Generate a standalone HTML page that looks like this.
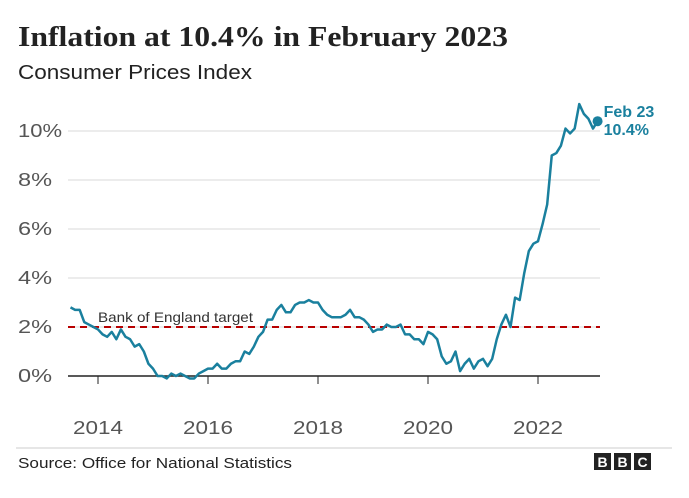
<!DOCTYPE html>
<html><head><meta charset="utf-8"><style>
body{margin:0;background:#fff;width:689px;height:493px;overflow:hidden;font-family:"Liberation Sans",sans-serif}
</style></head><body>
<svg id="chart" width="689" height="493">
<text x="18" y="46" font-family="Liberation Serif,serif" font-weight="bold" font-size="28" textLength="490" lengthAdjust="spacingAndGlyphs" fill="#222">Inflation at 10.4% in February 2023</text>
<text x="18" y="79" font-size="20" textLength="234" lengthAdjust="spacingAndGlyphs" fill="#222">Consumer Prices Index</text>
<g id="grid"></g><g id="marks"></g>
<line x1="16" y1="448" x2="672" y2="448" stroke="#ccc"/>
<text x="18" y="468" font-size="15" textLength="274" lengthAdjust="spacingAndGlyphs" fill="#222">Source: Office for National Statistics</text>
<g>
<rect x="594" y="453" width="17" height="17" fill="#222"/><text x="602.5" y="467" text-anchor="middle" fill="#fff" font-weight="bold" font-size="14">B</text>
<rect x="614" y="453" width="17" height="17" fill="#222"/><text x="622.5" y="467" text-anchor="middle" fill="#fff" font-weight="bold" font-size="14">B</text>
<rect x="634" y="453" width="17" height="17" fill="#222"/><text x="642.5" y="467" text-anchor="middle" fill="#fff" font-weight="bold" font-size="14">C</text>
</g>
</svg>
<script>
const startYear = 2013, startMonth = 6; // July 2013 (0-based month)
const cpiValues = [2.8,2.7,2.7,2.2,2.1,2.0,
1.9,1.7,1.6,1.8,1.5,1.9,1.6,1.5,1.2,1.3,1.0,0.5,
0.3,0.0,0.0,-0.1,0.1,0.0,0.1,0.0,-0.1,-0.1,0.1,0.2,
0.3,0.3,0.5,0.3,0.3,0.5,0.6,0.6,1.0,0.9,1.2,1.6,
1.8,2.3,2.3,2.7,2.9,2.6,2.6,2.9,3.0,3.0,3.1,3.0,
3.0,2.7,2.5,2.4,2.4,2.4,2.5,2.7,2.4,2.4,2.3,2.1,
1.8,1.9,1.9,2.1,2.0,2.0,2.1,1.7,1.7,1.5,1.5,1.3,
1.8,1.7,1.5,0.8,0.5,0.6,1.0,0.2,0.5,0.7,0.3,0.6,
0.7,0.4,0.7,1.5,2.1,2.5,2.0,3.2,3.1,4.2,5.1,5.4,
5.5,6.2,7.0,9.0,9.1,9.4,10.1,9.9,10.1,11.1,10.7,10.5,
10.1,10.4];
const yTicks = [0,2,4,6,8,10];
const xTicks = [2014,2016,2018,2020,2022];
const target = 2;
const NS="http://www.w3.org/2000/svg";
const X = t => 98 + (t-2014)*55;
const Y = v => 376 - v*24.5;
function mk(tag, attrs, parent){const e=document.createElementNS(NS,tag);for(const k in attrs)e.setAttribute(k,attrs[k]);parent.appendChild(e);return e;}
const grid=document.getElementById('grid'), marks=document.getElementById('marks');
yTicks.forEach(v=>{
  if(v!==0){const l=mk('line',{x1:68,x2:600,y1:Y(v),y2:Y(v),stroke:'#d9d9d9'},grid);
  
  }
  const t=mk('text',{x:18,y:Y(v)+6,'font-size':18,fill:'#555',textLength:(v>=10?44:34),lengthAdjust:'spacingAndGlyphs'},grid);t.textContent=v+'%';
  
  
});
xTicks.forEach(yr=>{
  const l=mk('line',{x1:X(yr),x2:X(yr),y1:376,y2:384,stroke:'#222'},grid);
  
  
  const t=mk('text',{x:X(yr),y:434,'font-size':18,fill:'#555','text-anchor':'middle',textLength:50,lengthAdjust:'spacingAndGlyphs'},grid);t.textContent=yr;
  
  
});
const tl=mk('line',{x1:68,x2:600,y1:Y(target),y2:Y(target),stroke:'#b80000','stroke-width':2,'stroke-dasharray':'7,5'},marks);


const tt=mk('text',{x:98,y:Y(target)-5,'font-size':14,fill:'#333',textLength:155,lengthAdjust:'spacingAndGlyphs'},marks);tt.textContent='Bank of England target';


const z=mk('line',{x1:68,x2:600,y1:Y(0),y2:Y(0),stroke:'#222','stroke-width':1.5},marks);


const pts=cpiValues.map((v,i)=>{const t=startYear+(startMonth+i)/12;return [X(t),Y(v)];});
const p=mk('polyline',{points:pts.map(q=>q.join(',')).join(' '),fill:'none',stroke:'#1a809e','stroke-width':2.5,'stroke-linejoin':'round'},marks);


const last=pts[pts.length-1];
const d=mk('circle',{cx:last[0],cy:last[1],r:5,fill:'#1a809e'},marks);


const l1=mk('text',{x:last[0]+6,y:last[1]-4,'font-size':16,'font-weight':'bold',fill:'#1a809e'},marks);l1.textContent='Feb 23';


const l2=mk('text',{x:last[0]+6,y:last[1]+14,'font-size':16,'font-weight':'bold',fill:'#1a809e'},marks);l2.textContent=cpiValues[cpiValues.length-1]+'%';


</script>
</body></html>
